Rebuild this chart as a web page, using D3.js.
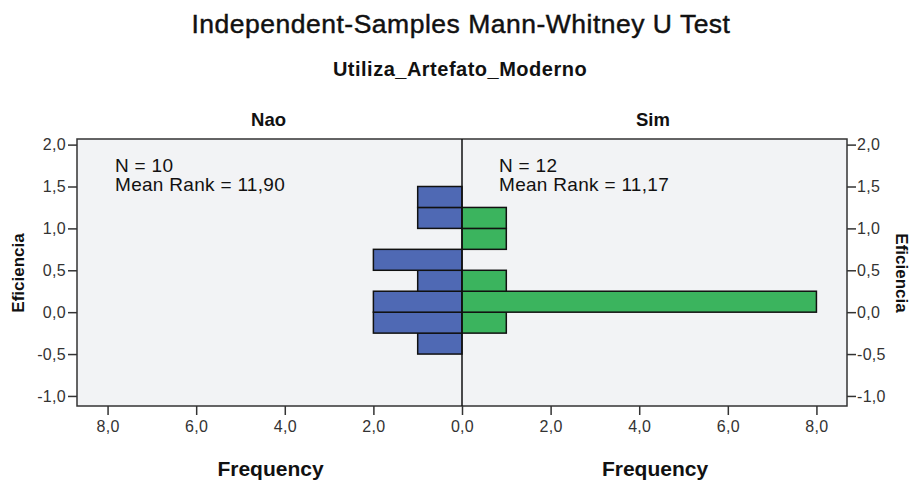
<!DOCTYPE html>
<html>
<head>
<meta charset="utf-8">
<script src="https://cdn.jsdelivr.net/npm/d3@7"></script>
<style>
  html, body { margin: 0; padding: 0; background: #ffffff; }
  svg { display: block; font-family: "Liberation Sans", Arial, sans-serif; }
</style>
</head>
<body>
<svg id="chart" width="910" height="484"></svg>
<script>
// ---- data ----
const title = "Independent-Samples Mann-Whitney U Test";
const groupVar = "Utiliza_Artefato_Moderno";
const groups = ["Nao", "Sim"];
const binStarts = [-0.5, -0.25, 0.0, 0.25, 0.5, 0.75, 1.0, 1.25];
const binWidth = 0.25;
const naoCounts = [1, 2, 2, 1, 2, 0, 1, 1];
const simCounts = [0, 1, 8, 1, 0, 1, 1, 0];
const groupN = [10, 12];
const meanRanks = ["11,90", "11,17"];
const yTicks = [-1.0, -0.5, 0.0, 0.5, 1.0, 1.5, 2.0];
const xTicks = [0, 2, 4, 6, 8];
const yLabel = "Eficiencia";
const xLabel = "Frequency";

// ---- layout ----
const svg = d3.select("#chart");
const pL = 77, pR = 847, pT = 139, pB = 406, mid = 462;
const fmt = v => d3.format(".1f")(v).replace(".", ",").replace("\u2212", "-");

const y = d3.scaleLinear().domain([-1.12, 2.067]).range([pB, pT]);
const xL = d3.scaleLinear().domain([0, 8.69]).range([mid, pL]);
const xR = d3.scaleLinear().domain([0, 8.69]).range([mid, pR]);

// titles
svg.append("text").attr("x", 461).attr("y", 33).attr("text-anchor", "middle")
  .attr("font-size", 26.5).attr("letter-spacing", 0.5).attr("fill", "#111")
  .attr("stroke", "#111").attr("stroke-width", 0.45).text(title);
svg.append("text").attr("x", 460).attr("y", 76).attr("text-anchor", "middle")
  .attr("font-size", 20).attr("letter-spacing", 0.5).attr("font-weight", "bold").attr("fill", "#111").text(groupVar);
svg.append("text").attr("x", 268.5).attr("y", 126).attr("text-anchor", "middle")
  .attr("font-size", 18.5).attr("font-weight", "bold").attr("fill", "#111").text(groups[0]);
svg.append("text").attr("x", 653).attr("y", 126).attr("text-anchor", "middle")
  .attr("font-size", 18.5).attr("font-weight", "bold").attr("fill", "#111").text(groups[1]);

// plot background
svg.append("rect").attr("x", pL).attr("y", pT).attr("width", pR - pL).attr("height", pB - pT)
  .attr("fill", "#f2f3f5");

// bars
const bars = svg.append("g");
function drawBars(counts, xs, color) {
  counts.forEach((c, i) => {
    if (c <= 0) return;
    const y0 = y(binStarts[i] + binWidth), y1 = y(binStarts[i]);
    const xa = xs(0), xb = xs(c);
    bars.append("rect")
      .attr("x", Math.min(xa, xb)).attr("y", y0)
      .attr("width", Math.abs(xb - xa)).attr("height", y1 - y0)
      .attr("fill", color).attr("stroke", "#111").attr("stroke-width", 1.5);
  });
}
drawBars(naoCounts, xL, "#4f69b4");
drawBars(simCounts, xR, "#3bb45e");

// frame and center line
svg.append("rect").attr("x", pL).attr("y", pT).attr("width", pR - pL).attr("height", pB - pT)
  .attr("fill", "none").attr("stroke", "#333").attr("stroke-width", 1.5);
svg.append("line").attr("x1", mid).attr("x2", mid).attr("y1", pT).attr("y2", pB)
  .attr("stroke", "#111").attr("stroke-width", 1.5);

// axes
function styleAxis(g) {
  g.select(".domain").remove();
  g.selectAll(".tick line").attr("stroke", "#333").attr("stroke-width", 1.5);
  g.selectAll(".tick text").attr("fill", "#333").attr("font-size", 16).attr("letter-spacing", 0.3)
    .attr("font-family", "'Liberation Sans', Arial, sans-serif");
}
svg.append("g").attr("transform", `translate(${pL},0)`)
  .call(d3.axisLeft(y).tickValues(yTicks).tickFormat(fmt).tickSize(9).tickPadding(2)).call(styleAxis);
svg.append("g").attr("transform", `translate(${pR},0)`)
  .call(d3.axisRight(y).tickValues(yTicks).tickFormat(fmt).tickSize(9).tickPadding(1)).call(styleAxis);
svg.append("g").attr("transform", `translate(0,${pB})`)
  .call(d3.axisBottom(xL).tickValues(xTicks).tickFormat(fmt).tickSize(9).tickPadding(6)).call(styleAxis);
svg.append("g").attr("transform", `translate(0,${pB})`)
  .call(d3.axisBottom(xR).tickValues(xTicks.filter(d => d > 0)).tickFormat(fmt).tickSize(9).tickPadding(6)).call(styleAxis);

// axis titles
svg.append("text").attr("transform", "translate(24,273) rotate(-90)").attr("text-anchor", "middle")
  .attr("font-size", 17).attr("font-weight", "bold").attr("fill", "#111").text(yLabel);
svg.append("text").attr("transform", "translate(896,273) rotate(90)").attr("text-anchor", "middle")
  .attr("font-size", 17).attr("font-weight", "bold").attr("fill", "#111").text(yLabel);
svg.append("text").attr("x", 270.5).attr("y", 476).attr("text-anchor", "middle")
  .attr("font-size", 21).attr("font-weight", "bold").attr("fill", "#111").text(xLabel);
svg.append("text").attr("x", 655).attr("y", 476).attr("text-anchor", "middle")
  .attr("font-size", 21).attr("font-weight", "bold").attr("fill", "#111").text(xLabel);

// annotations
const annX = [115, 499];
groups.forEach((g, i) => {
  const t = svg.append("text").attr("x", annX[i]).attr("y", 172).attr("font-size", 19)
    .attr("letter-spacing", 0.3).attr("fill", "#111");
  t.append("tspan").attr("x", annX[i]).attr("dy", 0).text(`N = ${groupN[i]}`);
  t.append("tspan").attr("x", annX[i]).attr("dy", 19).text(`Mean Rank = ${meanRanks[i]}`);
});
</script>
</body>
</html>
